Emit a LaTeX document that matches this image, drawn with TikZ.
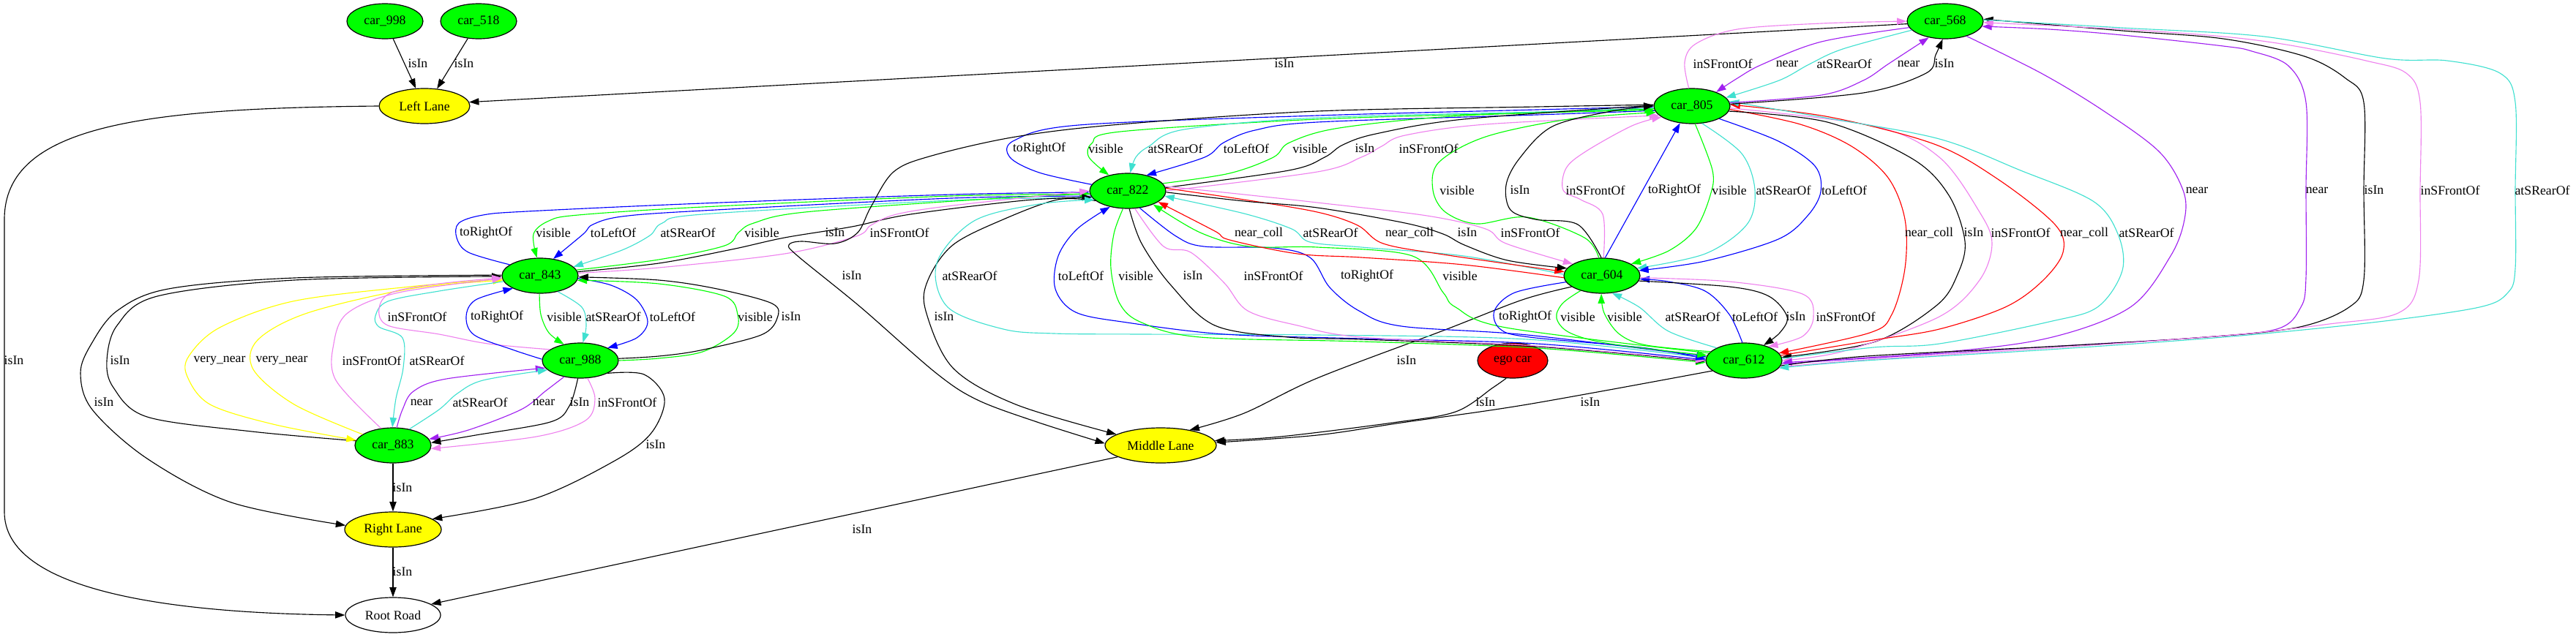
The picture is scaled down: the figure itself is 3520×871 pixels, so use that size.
\documentclass[tikz,border=0pt]{standalone}
\usepackage{fontspec}
\setmainfont{Liberation Serif}
\usetikzlibrary{shapes.geometric,arrows.meta}
\definecolor{cgreen}{HTML}{00FF00}
\definecolor{cyel}{HTML}{FFFF00}
\definecolor{cred}{HTML}{FF0000}
\definecolor{cblue}{HTML}{0000FF}
\definecolor{ccyan}{HTML}{40E0D0}
\definecolor{cpink}{HTML}{EE82EE}
\definecolor{cpurp}{HTML}{A020F0}
\newcommand\elab[4]{\node[lbl] (#1) at (#2,#3) {#4};}
\begin{document}
\begin{tikzpicture}[x=0.75pt,y=-0.75pt,
  every node/.style={font=\fontsize{13.3pt}{15pt}\selectfont},
  car/.style={ellipse, draw=black, line width=0.9pt, fill=cgreen, minimum width=78pt, minimum height=36pt, inner sep=0pt},
  lane/.style={car, fill=cyel},
  lbl/.style={inner sep=0pt},
  e/.style={line width=0.85pt, -{Triangle[length=10pt,width=7pt]}, smooth, tension=0.55},
  ek/.style={e, draw=black},
  eb/.style={e, draw=cblue},
  eg/.style={e, draw=cgreen},
  ec/.style={e, draw=ccyan},
  ep/.style={e, draw=cpink},
  eu/.style={e, draw=cpurp},
  er/.style={e, draw=cred},
  ey/.style={e, draw=cyel}]
\useasboundingbox (0,0) rectangle (3520,871);

% ---------------- nodes
\node[car] (c998) at (526,29) {car\_998};
\node[car] (c518) at (654,29) {car\_518};
\node[lane, minimum width=93pt] (LL) at (580,145) {Left Lane};
\node[car] (A) at (2658,29) {car\_568};
\node[car] (B) at (2312,145) {car\_805};
\node[car] (C) at (1541,261) {car\_822};
\node[car] (D) at (738,377) {car\_843};
\node[car] (E) at (2189,377) {car\_604};
\node[car] (F) at (793,493) {car\_988};
\node[car] (G) at (2383,493) {car\_612};
\node[car, fill=cred, minimum width=72pt] (ego) at (2067,493) {ego car};
\node[car] (H) at (537,609) {car\_883};
\node[lane, minimum width=114pt] (ML) at (1586,609) {Middle Lane};
\node[lane, minimum width=99pt] (RL) at (537,724) {Right Lane};
\node[lane, fill=white, minimum width=97.5pt] (RR) at (537,841) {Root Road};

% ---------------- lanes / road
\draw[ek] (c998.295) -- (LL.116);
\draw[ek] (c518.238) -- (LL.54);
\draw[ek] (A.184) -- (LL.5);
\draw[ek] (LL.west) .. controls (200,148) and (6,170) .. (6,300) -- (6,700) .. controls (6,805) and (220,838) .. (RR.west);
\draw[ek] (H.south) -- (RL.north);
\draw[ek] (RL.south) -- (RR.north);
\draw[ek] (ML.195) -- (RR.16);

% ---------------- D / H / F cluster
\draw[ek] plot coordinates {(H.173) (344,590) (201,570) (155,530) (146,493) (160,445) (215,405) (402,383) (D.181)};
\draw[ek] plot coordinates {(D.179) (402,380) (230,395) (160,425) (125,470) (110,510) (126,560) (201,627) (316,687) (RL.175)};
\draw[ey] plot coordinates {(D.185) (560,392) (400,412) (300,448) (258,487) (256,515) (287,553) (373,580) (H.172)};
\draw[ey] plot coordinates {(H.160) (402,553) (346,505) (352,465) (420,428) (560,395) (D.187)};
\draw[ep] plot coordinates {(H.125) (459,520) (456,470) (475,428) (545,400) (D.184)};
\draw[ec] plot coordinates {(D.189) (600,398) (530,412) (513,432) (518,447) (550,462) (551,503) (541,545) (H.92)};
\draw[eu] plot coordinates {(H.78) (550,560) (565,535) (610,518) (F.192)};
\draw[ec] plot coordinates {(H.45) (600,560) (625,538) (660,520) (F.196)};
\draw[eu] plot coordinates {(F.225) (745,535) (712,560) (640,588) (H.10)};
\draw[ek] plot coordinates {(F.262) (778,555) (752,577) (650,595) (H.4)};
\draw[ep] plot coordinates {(F.292) (813,545) (800,575) (733,597) (H.355)};
\draw[ek] plot coordinates {(F.335) (880,512) (908,545) (890,592) (840,630) (730,682) (RL.15)};
\draw[ep] plot coordinates {(F.160) (667,470) (600,457) (530,445) (518,422) (535,400) (600,388) (D.183)};
\draw[eb] plot coordinates {(F.178) (700,478) (648,458) (637,433) (650,410) (D.205)};
\draw[eg] plot coordinates {(D.268) (739,430) (750,455) (F.135)};
\draw[ec] plot coordinates {(D.318) (795,420) (801,445) (F.82)};
\draw[eb] plot coordinates {(D.356) (835,390) (870,410) (885,440) (870,462) (F.25)};
\draw[eg] plot coordinates {(F.0) (900,490) (960,481) (1003,455) (1008,430) (990,405) (900,388) (D.353)};
\draw[ek] plot coordinates {(F.3) (900,487) (957,479) (1040,458) (1062,435) (1055,415) (980,395) (900,383) (D.358)};

% ---------------- D / C
\draw[eb] plot coordinates {(D.160) (640,345) (624,325) (627,305) (660,294) (720,289) (960,278) (1300,266) (C.182)};
\draw[eg] plot coordinates {(C.185) (1300,268) (960,283) (790,294) (750,302) (729,320) (D.100)};
\draw[eb] plot coordinates {(C.188) (1300,271) (960,288) (850,296) (810,307) (797,320) (D.52)};
\draw[ec] plot coordinates {(C.191) (1300,274) (960,293) (905,305) (888,322) (850,342) (D.15)};
\draw[eg] plot coordinates {(D.9) (900,355) (990,336) (1009,318) (1030,305) (1100,290) (1350,272) (C.184)};
\draw[ek] plot coordinates {(D.6) (900,360) (1000,341) (1072,325) (1164,310) (1244,293) (1400,274) (C.190)};
\draw[ep] plot coordinates {(D.4) (900,366) (1072,347) (1170,323) (1190,308) (1225,293) (1302,281) (C.180)};

% ---------------- C / B
\draw[eb] plot coordinates {(C.170) (1420,236) (1380,215) (1386,192) (1474,171) (1800,158) (2100,150) (B.181)};
\draw[eg] plot coordinates {(B.184) (2100,154) (1800,163) (1531,180) (1492,196) (1488,215) (C.140)};
\draw[ec] plot coordinates {(B.183) (2100,153) (1800,161) (1618,177) (1570,200) (1552,215) (C.82)};
\draw[eb] plot coordinates {(B.187) (2100,157) (1800,167) (1715,178) (1672,195) (1646,215) (C.40)};
\draw[eg] plot coordinates {(C.12) (1680,237) (1740,215) (1762,195) (1830,175) (2000,158) (B.186)};
\draw[ek] plot coordinates {(C.5) (1761,233) (1810,215) (1835,198) (1880,183) (2000,163) (B.179)};
\draw[ep] plot coordinates {(C.0) (1800,235) (1860,215) (1888,200) (1920,185) (2030,170) (B.196)};

% ---------------- to Middle Lane
\draw[ek] plot coordinates {(B.178) (2100,146) (1800,152) (1531,170) (1388,187) (1273,213) (1221,235) (1190,283) (1172,318) (1141,333) (1095,330) (1078,335) (1090,350) (1176,420) (1279,510) (1336,547) (1417,577) (ML.178)};
\draw[ek] plot coordinates {(C.197) (1445,273) (1371,300) (1302,335) (1268,383) (1265,425) (1302,503) (1388,553) (ML.166)};
\draw[ek] plot coordinates {(E.200) (2080,410) (1972,452) (1800,517) (1700,565) (ML.28)};
\draw[ek] plot coordinates {(ego.250) (2040,530) (1989,563) (1903,578) (1750,597) (ML.5)};
\draw[ek] plot coordinates {(G.198) (2087,553) (1915,578) (1800,595) (ML.3)};

% ---------------- C / G
\draw[ec] plot coordinates {(G.176) (2087,464) (1800,458) (1560,457) (1440,456) (1371,450) (1295,420) (1280,360) (1331,302) (1420,279) (C.195)};
\draw[eb] plot coordinates {(G.179) (2100,470) (1860,463) (1673,457) (1540,441) (1470,427) (1442,395) (1446,350) (1472,313) (C.222)};
\draw[eg] plot coordinates {(C.255) (1522,320) (1518,367) (1530,415) (1560,441) (1640,461) (1860,467) (2100,476) (G.183)};
\draw[ek] plot coordinates {(C.275) (1560,333) (1600,390) (1660,445) (1760,461) (1860,464) (2100,474) (G.181)};
\draw[ep] plot coordinates {(C.292) (1590,337) (1627,345) (1673,387) (1705,425) (1773,445) (1860,461) (2100,473) (G.180)};
\draw[eb] plot coordinates {(C.305) (1607,323) (1645,337) (1740,339) (1790,352) (1817,393) (1857,425) (1915,446) (2087,458) (G.174)};
\draw[eg] plot coordinates {(G.168) (2058,448) (1989,420) (1972,400) (1930,350) (1800,338) (1707,337) (1640,318) (C.332)};

% ---------------- C / E
\draw[er] plot coordinates {(E.183) (2000,362) (1860,352) (1773,347) (1680,328) (1660,316) (C.340)};
\draw[ec] plot coordinates {(E.178) (2000,350) (1860,338) (1790,331) (1765,313) (1700,292) (C.352)};
\draw[er] plot coordinates {(C.4) (1700,273) (1800,290) (1855,308) (1890,333) (1972,348) (E.174)};
\draw[ek] plot coordinates {(C.358) (1700,275) (1800,284) (1920,305) (1972,320) (2001,335) (2060,356) (E.168)};
\draw[ep] plot coordinates {(C.7) (1700,266) (1800,277) (1950,295) (2030,313) (2058,333) (E.158)};

% ---------------- E / B
\draw[eg] plot coordinates {(E.100) (2165,325) (2087,297) (2018,306) (1975,290) (1958,260) (1966,222) (2030,187) (2144,163) (B.190)};
\draw[ek] plot coordinates {(E.92) (2156,307) (2098,300) (2064,287) (2058,253) (2076,217) (2121,173) (2202,152) (B.180)};
\draw[ep] plot coordinates {(E.85) (2190,293) (2160,273) (2136,260) (2140,230) (2167,207) (2230,172) (B.200)};
\draw[eb] (E.80) -- (B.235);
\draw[eg] plot coordinates {(B.280) (2340,233) (2337,267) (2317,313) (2280,343) (E.22)};
\draw[ec] plot coordinates {(B.300) (2380,210) (2398,260) (2387,307) (2330,347) (E.12)};
\draw[eb] plot coordinates {(B.335) (2430,193) (2480,227) (2488,262) (2470,295) (2430,327) (2330,357) (E.8)};

% ---------------- E / G
\draw[eb] plot coordinates {(E.190) (2070,400) (2042,425) (2050,450) (2090,461) (2250,476) (G.178)};
\draw[eg] plot coordinates {(E.215) (2135,415) (2127,435) (2145,455) (2200,470) (G.172)};
\draw[eg] plot coordinates {(G.165) (2250,472) (2213,457) (2192,428) (E.268)};
\draw[ec] plot coordinates {(G.155) (2280,453) (2240,420) (E.300)};
\draw[eb] plot coordinates {(G.95) (2363,430) (2330,398) (2280,385) (E.355)};
\draw[ek] plot coordinates {(E.352) (2363,392) (2417,405) (2442,433) (2432,455) (G.38)};
\draw[ep] plot coordinates {(E.357) (2363,385) (2463,402) (2478,433) (2463,460) (G.30)};

% ---------------- B / G
\draw[er] plot coordinates {(B.355) (2460,170) (2530,200) (2580,243) (2603,300) (2603,367) (2585,430) (2555,455) (G.12)};
\draw[ek] plot coordinates {(B.352) (2497,167) (2613,217) (2663,267) (2685,330) (2675,375) (2647,417) (2563,467) (G.5)};
\draw[ep] plot coordinates {(B.357) (2563,173) (2650,215) (2705,290) (2722,333) (2705,383) (2650,433) (2520,480) (G.0)};
\draw[er] plot coordinates {(G.8) (2560,465) (2650,450) (2740,420) (2790,385) (2819,345) (2808,307) (2730,245) (2643,197) (2500,160) (B.2)};
\draw[ec] plot coordinates {(G.3) (2560,475) (2650,470) (2800,440) (2866,420) (2900,370) (2894,320) (2860,275) (2761,233) (2650,190) (2500,162) (B.7)};

% ---------------- A / B
\draw[ep] plot coordinates {(B.100) (2302,85) (2317,60) (2374,40) (2489,32) (A.180)};
\draw[eu] plot coordinates {(A.190) (2489,57) (2408,88) (2374,107) (B.30)};
\draw[ec] plot coordinates {(A.195) (2518,67) (2472,88) (2431,110) (B.14)};
\draw[eu] plot coordinates {(B.5) (2489,130) (2546,110) (2581,87) (A.225)};
\draw[ek] plot coordinates {(B.3) (2546,127) (2632,100) (2645,75) (A.262)};

% ---------------- A / G
\draw[eu] plot coordinates {(A.325) (2789,100) (2872,150) (2950,207) (2983,260) (2985,300) (2966,350) (2911,420) (2800,462) (2650,482) (G.357)};
\draw[eu] plot coordinates {(G.355) (2550,490) (2800,474) (3000,462) (3111,450) (3144,420) (3151,380) (3151,260) (3151,140) (3127,90) (3077,70) (3038,63) (2900,48) (2800,40) (A.352)};
\draw[ek] plot coordinates {(G.352) (2550,487) (2800,474) (3000,462) (3138,448) (3210,420) (3230,383) (3230,260) (3230,140) (3205,107) (3149,77) (3038,53) (2900,42) (A.3)};
\draw[ep] plot coordinates {(G.350) (2550,492) (2800,476) (3050,458) (3183,443) (3277,428) (3305,383) (3307,260) (3307,140) (3288,100) (3233,83) (3130,62) (3038,50) (2900,40) (A.358)};
\draw[ec] plot coordinates {(A.2) (2900,38) (3094,50) (3260,80) (3344,83) (3416,100) (3437,140) (3437,260) (3437,367) (3427,400) (3388,420) (3250,440) (3050,460) (2800,478) (2550,493) (G.348)};

% ---------------- labels
\elab{l01}{571}{87}{isIn}
\elab{l02}{634}{87}{isIn}
\elab{l03}{1755}{87}{isIn}
\elab{l04}{2354}{87}{inSFrontOf}
\elab{l05}{2442}{87}{near}
\elab{l06}{2520}{87}{atSRearOf}
\elab{l07}{2608}{87}{near}
\elab{l08}{2657}{87}{isIn}
\elab{l09}{1420}{203}{toRightOf}
\elab{l10}{1511}{203}{visible}
\elab{l11}{1606}{203}{atSRearOf}
\elab{l12}{1703}{203}{toLeftOf}
\elab{l13}{1790}{203}{visible}
\elab{l14}{1865}{203}{isIn}
\elab{l15}{1952}{203}{inSFrontOf}
\elab{l16}{1991}{260}{visible}
\elab{l17}{2077}{260}{isIn}
\elab{l18}{2180}{260}{inSFrontOf}
\elab{l19}{2288}{260}{toRightOf}
\elab{l20}{2363}{260}{visible}
\elab{l21}{2437}{260}{atSRearOf}
\elab{l22}{2520}{260}{toLeftOf}
\elab{l23}{3002}{260}{near}
\elab{l24}{3166}{260}{near}
\elab{l25}{3244}{260}{isIn}
\elab{l26}{3348}{260}{inSFrontOf}
\elab{l27}{3474}{260}{atSRearOf}
\elab{l28}{664}{318}{toRightOf}
\elab{l29}{756}{318}{visible}
\elab{l30}{838}{318}{toLeftOf}
\elab{l31}{940}{318}{atSRearOf}
\elab{l32}{1041}{318}{visible}
\elab{l33}{1141}{318}{isIn}
\elab{l34}{1229}{318}{inSFrontOf}
\elab{l35}{1720}{318}{near\_coll}
\elab{l36}{1818}{318}{atSRearOf}
\elab{l37}{1926}{318}{near\_coll}
\elab{l38}{2005}{318}{isIn}
\elab{l39}{2091}{318}{inSFrontOf}
\elab{l40}{2636}{318}{near\_coll}
\elab{l41}{2697}{318}{isIn}
\elab{l42}{2761}{318}{inSFrontOf}
\elab{l43}{2848}{318}{near\_coll}
\elab{l44}{2933}{318}{atSRearOf}
\elab{l45}{1164}{377}{isIn}
\elab{l46}{1325}{377}{atSRearOf}
\elab{l47}{1477}{377}{toLeftOf}
\elab{l48}{1552}{377}{visible}
\elab{l49}{1630}{377}{isIn}
\elab{l50}{1740}{377}{inSFrontOf}
\elab{l51}{1868}{377}{toRightOf}
\elab{l52}{1995}{377}{visible}
\elab{l53}{570}{433}{inSFrontOf}
\elab{l54}{679}{433}{toRightOf}
\elab{l55}{771}{433}{visible}
\elab{l56}{838}{433}{atSRearOf}
\elab{l57}{919}{433}{toLeftOf}
\elab{l58}{1032}{433}{visible}
\elab{l59}{1081}{433}{isIn}
\elab{l60}{1290}{433}{isIn}
\elab{l61}{2084}{433}{toRightOf}
\elab{l62}{2156}{433}{visible}
\elab{l63}{2220}{433}{visible}
\elab{l64}{2313}{433}{atSRearOf}
\elab{l65}{2398}{433}{toLeftOf}
\elab{l66}{2454}{433}{isIn}
\elab{l67}{2522}{433}{inSFrontOf}
\elab{l68}{19}{493}{isIn}
\elab{l69}{164}{493}{isIn}
\elab{l70}{300}{493}{very\_near}
\elab{l71}{385}{493}{very\_near}
\elab{l72}{508}{493}{inSFrontOf}
\elab{l73}{597}{493}{atSRearOf}
\elab{l74}{1922}{493}{isIn}
\elab{l75}{142}{550}{isIn}
\elab{l76}{576}{550}{near}
\elab{l77}{656}{550}{atSRearOf}
\elab{l78}{743}{550}{near}
\elab{l79}{792}{550}{isIn}
\elab{l80}{857}{550}{inSFrontOf}
\elab{l81}{2030}{550}{isIn}
\elab{l82}{2173}{550}{isIn}
\elab{l83}{896}{608}{isIn}
\elab{l84}{550}{667}{isIn}
\elab{l85}{550}{782}{isIn}
\elab{l86}{1178}{724}{isIn}
\end{tikzpicture}
\end{document}
